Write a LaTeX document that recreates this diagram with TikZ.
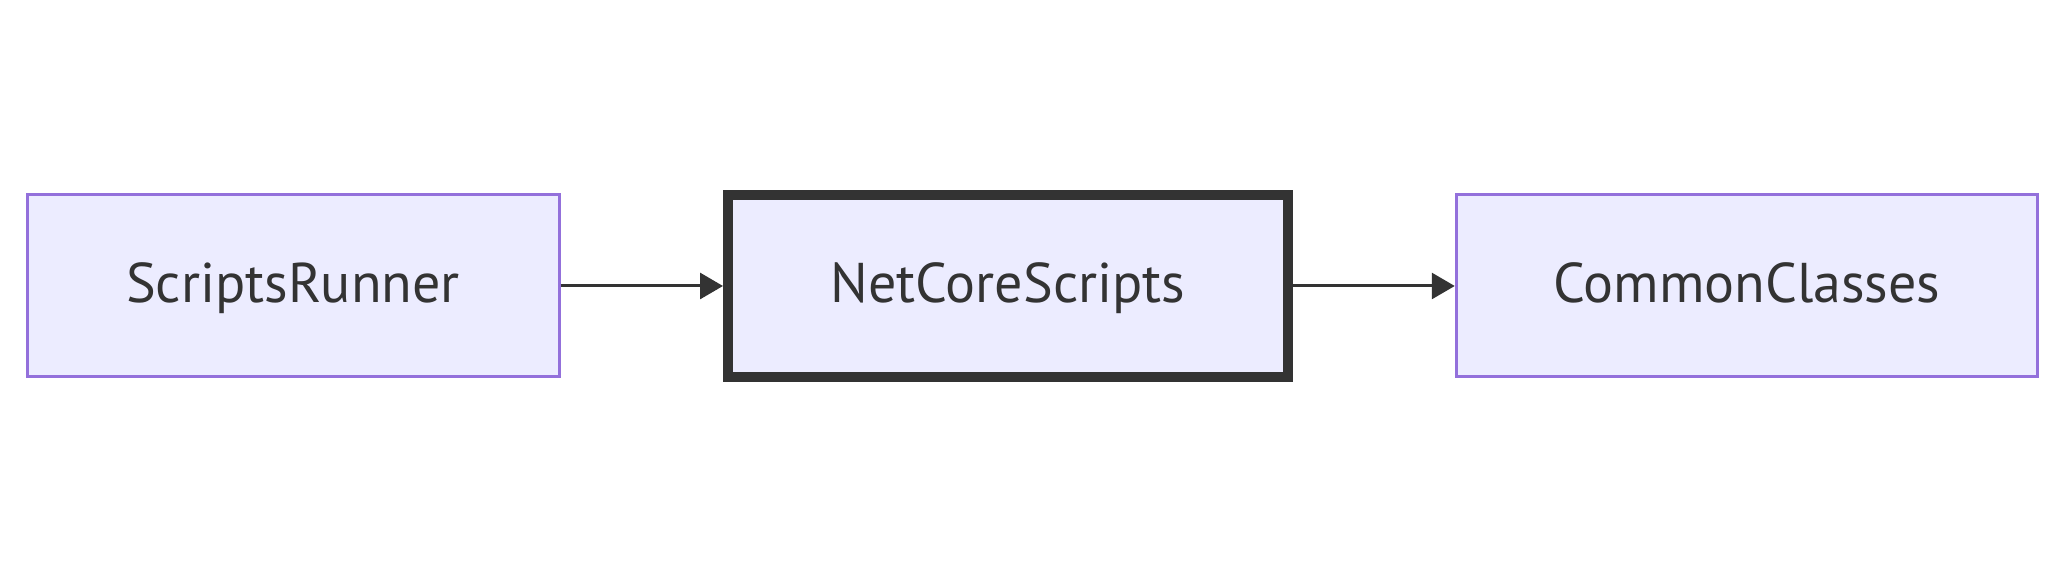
\documentclass[tikz,border=0pt]{standalone}
\usepackage{fontspec}
\setmainfont{PT Sans}
\usepackage{tikz}
\usetikzlibrary{arrows.meta}
\usetikzlibrary{positioning}
\definecolor{nodefill}{HTML}{ECECFF}
\definecolor{nodeline}{HTML}{9370DB}
\definecolor{darkline}{HTML}{333333}
\tikzstyle{nd}=[draw=nodeline,rectangle,fill=nodefill,line width=3pt,inner sep=0pt, minimum height=182pt, text=darkline, text height=40pt, text depth=6pt, font=\fontsize{56}{60}\selectfont]
\tikzstyle{ndthick}=[nd,draw=darkline,line width=10pt]
\tikzstyle{ed}=[draw=darkline,line width=3pt,-{Triangle[length=23pt,width=26pt]}]

\begin{document}
\begin{tikzpicture}[x=1pt,y=1pt]
      \useasboundingbox [fill=white] (0,0) rectangle (2065,580);
      \node [nd, minimum width=532pt]  (runner) at (293,294) {ScriptsRunner};
      \node [ndthick, minimum width=560pt] (core) at (1008,294) {NetCoreScripts};
      \node [nd, minimum width=581.5pt] (common) at (1747,294) {CommonClasses};
      \path [ed]
      (runner) -- (core);
      \path [ed]
      (core) -- (common);
\end{tikzpicture}
\end{document}
